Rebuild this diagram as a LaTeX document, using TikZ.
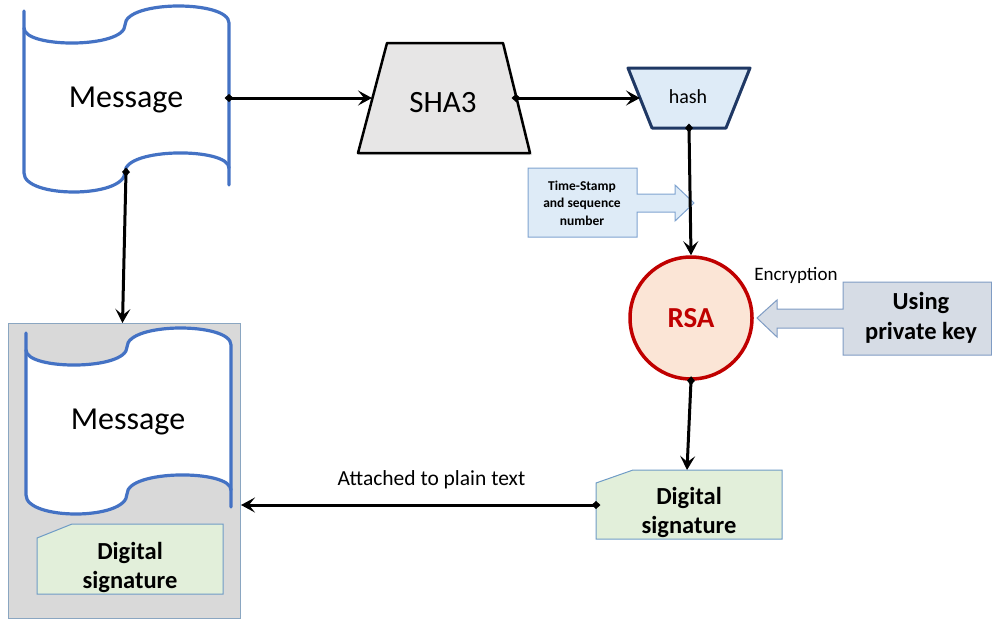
\documentclass[tikz,border=0pt]{standalone}
\usepackage{fontspec}
\setmainfont{Carlito}
\usetikzlibrary{arrows.meta,shadows}

\definecolor{tapeblue}{HTML}{4472C4}
\definecolor{shafill}{HTML}{E7E6E6}
\definecolor{hashfill}{HTML}{DEEBF7}
\definecolor{hashdraw}{HTML}{1F3864}
\definecolor{calloutdraw}{HTML}{7FA3D0}
\definecolor{rsafill}{HTML}{FBE5D6}
\definecolor{rsared}{HTML}{C00000}
\definecolor{keyfill}{HTML}{D6DCE5}
\definecolor{keydraw}{HTML}{7F9CC4}
\definecolor{sigfill}{HTML}{E2EFDA}
\definecolor{sigdraw}{HTML}{6F9CC6}
\definecolor{boxfill}{HTML}{D9D9D9}
\definecolor{boxdraw}{HTML}{8AA6C1}

\tikzset{
  link/.style={line width=3pt, black,
    {Diamond[length=9pt,width=8pt]}-{Stealth[length=14pt,width=15pt,inset=6pt]},
    shorten <=-4.5pt},
  tapeline/.style={draw=tapeblue, line width=3.2pt, line cap=round},
  msgtext/.style={font=\fontsize{32}{36}\selectfont},
  sigtext/.style={font=\bfseries\fontsize{24.5}{29}\selectfont, align=center},
  % paper-tape message symbol, origin at the top of its left edge
  msgtape/.pic={
    \fill[white] (0,17) -- (0,162)
      .. controls (0,187.5) and (101,187.5) .. (101,161)
      .. controls (101,136.3) and (205,136.3) .. (205,157)
      -- (205,12)
      .. controls (205,-11) and (101,-11) .. (101,14)
      .. controls (101,37.5) and (0,37.5) .. (0,17) -- cycle;
    \draw[tapeline] (0,0) -- (0,162)
      .. controls (0,187.5) and (101,187.5) .. (101,161)
      .. controls (101,136.3) and (205,136.3) .. (205,157);
    \draw[tapeline] (205,174) -- (205,12)
      .. controls (205,-11) and (101,-11) .. (101,14)
      .. controls (101,37.5) and (0,37.5) .. (0,17);
    \node[msgtext] (-text) at (102,89) {Message};
    \coordinate (-east) at (205,87);
    \coordinate (-south) at (102,161);
  }
}

\begin{document}
\begin{tikzpicture}[x=1pt,y=-1pt]
\useasboundingbox (0,0) rectangle (992,619);

% source message
\pic (src) at (24,11) {msgtape};

% hash function block
\filldraw[fill=shafill, draw=black, line width=2.5pt, line join=round,
  drop shadow={shadow xshift=2pt, shadow yshift=-2pt, opacity=0.25}]
  (387,43) -- (503,43) -- (530,153) -- (358,153) -- cycle;
\node[font=\fontsize{31}{35}\selectfont] (sha) at (443,103) {SHA3};
\coordinate (sha-west) at (372,98);
\coordinate (sha-east) at (516,98);

% digest
\filldraw[fill=hashfill, draw=hashdraw, line width=3pt, line join=round]
  (628,68) -- (750,68) -- (726,128) -- (652,128) -- cycle;
\node[font=\fontsize{20}{24}\selectfont] (hash) at (688,97) {hash};
\coordinate (hash-west) at (640,98);
\coordinate (hash-south) at (689,128);

% time-stamp callout
\filldraw[fill=hashfill, draw=calloutdraw, line width=1pt, line join=miter]
  (528,168) -- (637,168) -- (637,194) -- (675,194) -- (675,185) -- (694,203)
  -- (675,221) -- (675,212) -- (637,212) -- (637,237) -- (528,237) -- cycle;
\node[font=\bfseries\fontsize{13.5}{17.5}\selectfont, align=center] (ts) at (582,203)
  {Time-Stamp\\and sequence\\number};

% encryption
\node[circle, minimum size=122pt, inner sep=0pt, fill=rsafill, draw=rsared,
  line width=3.5pt, text=rsared, font=\bfseries\fontsize{29}{33}\selectfont]
  (rsa) at (691,318) {RSA};
\node[font=\fontsize{19}{23}\selectfont] (enc) at (796,275) {Encryption};

% private key callout
\filldraw[fill=keyfill, draw=keydraw, line width=1pt, line join=miter]
  (991.5,282) -- (843,282) -- (843,309) -- (777,309) -- (777,300) -- (757,318)
  -- (777,337) -- (777,328) -- (843,328) -- (843,355) -- (991.5,355) -- cycle;
\node[font=\bfseries\fontsize{24.5}{30}\selectfont, align=center] (key) at (921,318)
  {Using\\private key};

% produced signature
\filldraw[fill=sigfill, draw=sigdraw, line width=1pt, line join=miter]
  (596,483) -- (633,470) -- (782,470) -- (782,539) -- (596,539) -- cycle;
\node[sigtext] (sig) at (689,512) {Digital\\signature};
\coordinate (sig-north) at (687,470);
\coordinate (sig-west) at (596,505);

% signed message bundle
\node[rectangle, fill=boxfill, draw=boxdraw, line width=1pt,
  minimum width=232pt, minimum height=295pt, inner sep=0pt, anchor=north west]
  (bundle) at (8,323) {};
\pic (copy) at (26,333) {msgtape};
\filldraw[fill=sigfill, draw=sigdraw, line width=1pt, line join=miter]
  (37,538) -- (72,524) -- (223,524) -- (223,594) -- (37,594) -- cycle;
\node[sigtext] (sigcopy) at (130,567) {Digital\\signature};

% connectors
\draw[link] (src-east) -- (sha-west);
\draw[link] (sha-east) -- (hash-west);
\draw[link] (hash-south) -- (rsa.north);
\draw[link] (rsa.south) -- (sig-north);
\draw[link] (sig-west) -- (bundle.east |- sig-west)
  node[midway, above=11pt, xshift=13pt, font=\fontsize{21.5}{25}\selectfont]
  {Attached to plain text};
\draw[link] (src-south) -- ([xshift=-2pt]bundle.north);

\end{tikzpicture}
\end{document}
